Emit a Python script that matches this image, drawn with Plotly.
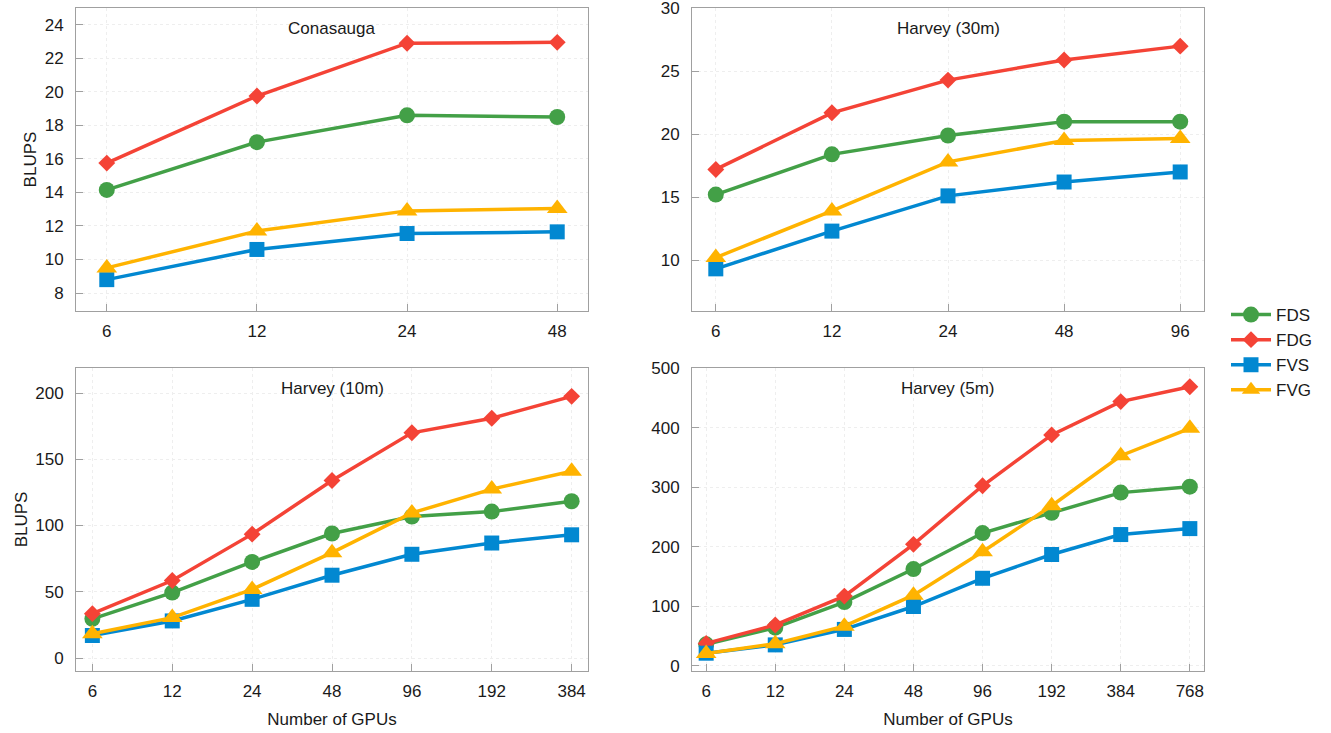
import math
import plotly.graph_objects as go

# ---- data -------------------------------------------------------------
gpus_conasauga = [6, 12, 24, 48]
conasauga_fds = [14.15, 17.0, 18.6, 18.5]
conasauga_fdg = [15.75, 19.75, 22.9, 22.95]
conasauga_fvs = [8.8, 10.6, 11.55, 11.65]
conasauga_fvg = [9.5, 11.7, 12.9, 13.05]

gpus_harvey30 = [6, 12, 24, 48, 96]
harvey30_fds = [15.2, 18.4, 19.9, 21.0, 21.0]
harvey30_fdg = [17.2, 21.7, 24.3, 25.9, 27.0]
harvey30_fvs = [9.3, 12.3, 15.1, 16.2, 17.0]
harvey30_fvg = [10.2, 13.9, 17.8, 19.5, 19.65]

gpus_harvey10 = [6, 12, 24, 48, 96, 192, 384]
harvey10_fds = [29.6, 49.4, 72.5, 94.0, 106.8, 110.5, 118.3]
harvey10_fdg = [33.5, 58.5, 93.5, 134.0, 170.0, 181.0, 197.5]
harvey10_fvs = [17.0, 28.0, 44.3, 62.5, 78.3, 86.8, 93.0]
harvey10_fvg = [18.3, 30.5, 51.8, 79.5, 109.5, 127.5, 141.0]

gpus_harvey5 = [6, 12, 24, 48, 96, 192, 384, 768]
harvey5_fds = [36.0, 64.0, 107.0, 162.5, 223.0, 257.0, 291.0, 301.0]
harvey5_fdg = [37.5, 68.5, 117.0, 204.0, 302.5, 388.0, 444.0, 469.0]
harvey5_fvs = [21.0, 35.0, 61.0, 99.5, 147.0, 187.0, 220.5, 230.5]
harvey5_fvg = [20.5, 37.0, 66.5, 118.5, 191.5, 269.0, 353.0, 399.0]

panel_titles = ["Conasauga", "Harvey (30m)", "Harvey (10m)", "Harvey (5m)"]
series_names = ["FDS", "FDG", "FVS", "FVG"]

# ---- styling ----------------------------------------------------------
colors = {"FDS": "#43A047", "FDG": "#F44336", "FVS": "#0288D1", "FVG": "#FFB300"}
symbols = {"FDS": "circle", "FDG": "diamond", "FVS": "square", "FVG": "triangle-up"}
msizes = {"FDS": 16, "FDG": 13, "FVS": 15, "FVG": 18}

FONT = "Liberation Sans, Arial, sans-serif"
TXT = "#1a1a1a"
AXIS_LINE = "#a0a0a0"
GRID = "#eeeeee"
FS = 17

W, H = 1331, 733

panels = [
    dict(gpus=gpus_conasauga,
         data=[conasauga_fds, conasauga_fdg, conasauga_fvs, conasauga_fvg],
         px=(76, 588), py=(8, 311), yrange=[6.93, 25.0], dtick=2, tick0=8,
         ytitle="BLUPS", xtitle=None),
    dict(gpus=gpus_harvey30,
         data=[harvey30_fds, harvey30_fdg, harvey30_fvs, harvey30_fvg],
         px=(692, 1204), py=(8, 311), yrange=[5.95, 30.03], dtick=5, tick0=10,
         ytitle=None, xtitle=None),
    dict(gpus=gpus_harvey10,
         data=[harvey10_fds, harvey10_fdg, harvey10_fvs, harvey10_fvg],
         px=(76, 588), py=(368, 671), yrange=[-9.8, 218.9], dtick=50, tick0=0,
         ytitle="BLUPS", xtitle="Number of GPUs"),
    dict(gpus=gpus_harvey5,
         data=[harvey5_fds, harvey5_fdg, harvey5_fvs, harvey5_fvg],
         px=(692, 1204), py=(368, 671), yrange=[-8.9, 500.5], dtick=100, tick0=0,
         ytitle=None, xtitle="Number of GPUs"),
]

fig = go.Figure()
layout = {}
annotations = []

for i, p in enumerate(panels):
    n = i + 1
    xa = "x" if n == 1 else f"x{n}"
    ya = "y" if n == 1 else f"y{n}"
    xkey = "xaxis" if n == 1 else f"xaxis{n}"
    ykey = "yaxis" if n == 1 else f"yaxis{n}"

    for name, vals in zip(series_names, p["data"]):
        fig.add_trace(go.Scatter(
            x=p["gpus"], y=vals, name=name, mode="lines+markers",
            xaxis=xa, yaxis=ya, legendgroup=name, showlegend=(n == 1),
            line=dict(color=colors[name], width=3.5),
            marker=dict(symbol=symbols[name], size=msizes[name],
                        color=colors[name], line=dict(width=0)),
        ))

    # log-scaled GPU axis with a fixed fraction of a doubling as padding
    pad = 0.205 * math.log10(2)
    xr = [math.log10(p["gpus"][0]) - pad, math.log10(p["gpus"][-1]) + pad]

    layout[xkey] = dict(
        type="log", range=xr, domain=[p["px"][0] / W, p["px"][1] / W],
        anchor=ya, tickvals=p["gpus"], ticktext=[str(g) for g in p["gpus"]],
        ticks="inside", ticklen=7, tickcolor=AXIS_LINE, tickwidth=1,
        showline=True, linecolor=AXIS_LINE, linewidth=1, mirror=True,
        showgrid=True, gridcolor=GRID, griddash="dot", gridwidth=1,
        zeroline=False, tickfont=dict(family=FONT, size=FS, color=TXT),
        ticklabelstandoff=5, ticklabeloverflow="allow", automargin=False,
        title=dict(text=p["xtitle"], standoff=12,
                   font=dict(family=FONT, size=FS, color=TXT)) if p["xtitle"] else None,
    )
    layout[ykey] = dict(
        range=p["yrange"], domain=[1 - p["py"][1] / H, 1 - p["py"][0] / H],
        anchor=xa, tick0=p["tick0"], dtick=p["dtick"],
        ticks="inside", ticklen=7, tickcolor=AXIS_LINE, tickwidth=1,
        showline=True, linecolor=AXIS_LINE, linewidth=1, mirror=True,
        showgrid=True, gridcolor=GRID, griddash="dot", gridwidth=1,
        zeroline=False, tickfont=dict(family=FONT, size=FS, color=TXT),
        ticklabelstandoff=8, ticklabeloverflow="allow", automargin=False,
        title=dict(text=p["ytitle"], standoff=3,
                   font=dict(family=FONT, size=FS, color=TXT)) if p["ytitle"] else None,
    )

    annotations.append(dict(
        text=panel_titles[i], xref=f"{xa} domain", yref=f"{ya} domain",
        x=0.5, y=1, xanchor="center", yanchor="top", yshift=-9,
        showarrow=False, font=dict(family=FONT, size=FS, color=TXT),
    ))

fig.update_layout(
    width=W, height=H,
    margin=dict(l=0, r=0, t=0, b=0),
    paper_bgcolor="white", plot_bgcolor="white",
    showlegend=True,
    legend=dict(x=1226 / W, y=1 - 297 / H, xanchor="left", yanchor="top",
                font=dict(family=FONT, size=FS, color=TXT),
                bgcolor="rgba(0,0,0,0)", tracegroupgap=0, itemwidth=40),
    annotations=annotations,
    **layout,
)

fig.write_html("out.html")
